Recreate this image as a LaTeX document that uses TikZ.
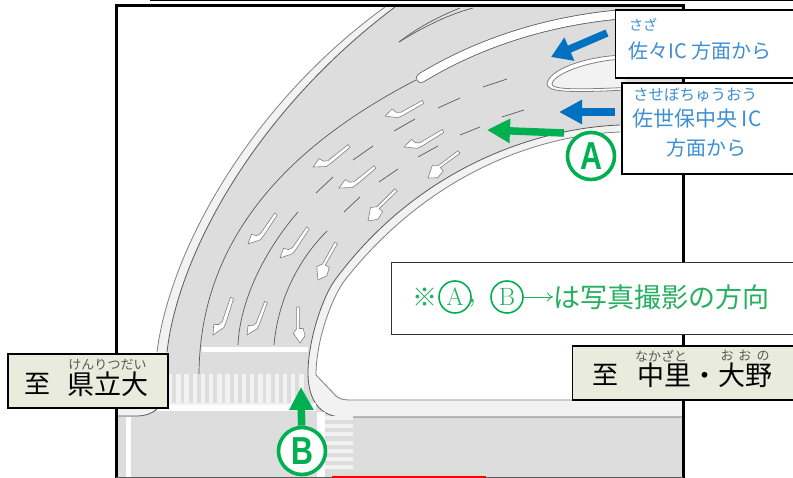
\documentclass[tikz,border=0pt]{standalone}
\usepackage{fontspec}
\usepackage{graphicx}
\usetikzlibrary{arrows.meta}
\setsansfont{Liberation Sans}
\newfontfamily\jp{Noto Sans CJK JP}
\definecolor{roadgray}{HTML}{DDDDDD}
\definecolor{shouldergray}{HTML}{F2F2F2}
\definecolor{edgegray}{HTML}{5A5A5A}
\definecolor{markblue}{HTML}{0070C0}
\definecolor{textblue}{HTML}{3D8FD1}
\definecolor{markgreen}{HTML}{00B050}
\definecolor{textgreen}{HTML}{25B060}
\definecolor{signgreen}{HTML}{E9ECDC}
\newcommand{\fsize}[1]{\fontsize{#1}{#1}\selectfont}
\newcommand{\narrowmark}[1]{\scalebox{0.78}[1]{#1}}
\tikzset{
	edgeline/.style={draw=edgegray, line width=0.8pt},
	softline/.style={draw=gray, line width=0.8pt},
	laneline/.style={draw=edgegray, line width=0.7pt},
	lanemark/.style={draw=gray, fill=white, line width=0.6pt, line join=round},
	whitebox/.style={draw=black, fill=white, line width=1.6pt},
	signbox/.style={draw=black, fill=signgreen, line width=1.8pt},
	bluearrow/.style={draw=markblue, line width=7.5pt, -{Triangle[length=20pt,width=24pt,fill=markblue]}},
	greenarrow/.style={draw=markgreen, line width=7.5pt, -{Triangle[length=23pt,width=23pt,fill=markgreen]}},
	bigmark/.style={circle, draw=markgreen, fill=white, line width=3.6pt, minimum size=47pt, inner sep=0pt, text=markgreen, font=\sffamily\bfseries\fsize{39}},
	smallmark/.style={circle, draw=markgreen, line width=1.6pt, minimum size=32pt, inner sep=0pt, text=textgreen, font=\fsize{25}},
	rubytext/.style={inner sep=0pt, text=black!65, font=\jp\fsize{13}},
	signtext/.style={inner sep=0pt, font=\jp\fsize{27}},
	bluetext/.style={inner sep=0pt, text=textblue, font=\jp\fsize{20}},
	bluetiny/.style={inner sep=0pt, text=textblue, font=\jp\fsize{14}},
	notetext/.style={inner sep=0pt, text=textgreen, font=\jp\fsize{27}}
}
\begin{document}
\begin{tikzpicture}[x=1pt,y=-1pt]
	\useasboundingbox (0,0) rectangle (793,478);
	\clip (0,0) rectangle (793,478);
	\fill[white] (0,0) rectangle (793,478);

	%%shoulder
	\fill[shouldergray] (157,352) .. controls (170,250) and (250,105) .. (385,7) -- (683,7) -- (683,132) -- (620,132)
		.. controls (540,135) and (430,172) .. (345,280) .. controls (332,297) and (316,340) .. (316,375)
		-- (343,400) -- (683,400) -- (683,477) -- (118,477) -- (118,405) -- (157,405) -- cycle;

	%%road
	\fill[roadgray] (167,352) .. controls (178,255) and (255,112) .. (395,7) -- (683,7) -- (683,125) -- (620,125)
		.. controls (540,128) and (420,165) .. (335,280) .. controls (323,296) and (308,340) .. (308,373)
		.. controls (308,400) and (320,417) .. (343,417)
		-- (683,417) -- (683,477) -- (118,477) -- (118,416) -- (137,416) .. controls (150,416) and (166,410) .. (167,380) -- cycle;

	%%island
	\filldraw[fill=white, softline] (625,55) .. controls (585,56) and (548,70) .. (547,84) .. controls (547,92) and (570,93) .. (625,90);
	\filldraw[fill=shouldergray, softline] (625,59) .. controls (590,60) and (553,74) .. (552,84) .. controls (552,89) and (570,90) .. (625,87.5);

	%%edges
	\draw[softline] (157,352) .. controls (170,250) and (250,105) .. (385,7);
	\draw[softline] (620,132) .. controls (540,135) and (430,172) .. (345,280) .. controls (332,297) and (316,340) .. (316,375) -- (336,396) .. controls (340,399) and (343,400) .. (350,400) -- (683,400);
	\draw[edgeline] (167,352) .. controls (178,255) and (255,112) .. (395,7);
	\draw[edgeline] (620,125) .. controls (540,128) and (420,165) .. (335,280) .. controls (323,296) and (308,340) .. (308,373) .. controls (308,400) and (320,417) .. (343,417) -- (683,417);
	\draw[edgeline] (118,416) -- (137,416) .. controls (150,416) and (166,410) .. (167,380);

	%%white bar
	\draw[draw=edgegray, line width=10pt, line cap=round] (421,78) .. controls (480,42) and (550,20) .. (625,14);
	\draw[draw=white, line width=8.4pt, line cap=round] (421,78) .. controls (480,42) and (550,20) .. (625,14);

	%%lane lines
	\draw[laneline] (416,80) .. controls (300,140) and (200,230) .. (199,374);
	\draw[laneline] (298,212) .. controls (265,250) and (240,300) .. (238,345);
	\draw[laneline] (327,231) .. controls (298,260) and (278,300) .. (274,345);
	\draw[laneline] (399,42) .. controls (420,26) and (440,16) .. (460,8);
	\draw[laneline] (399,42) .. controls (425,26) and (450,14) .. (473,8);
	\foreach \xa/\ya/\xb/\yb in {483/87/507/79, 438/108/460/98, 394/131/415/119, 353/160/373/146, 316/193/333/177, 502/117/524/110, 460/135/480/127, 418/157/438/146, 379/182/398/169, 344/212/360/197}
	{
		\draw[laneline] (\xa,\ya)--(\xb,\yb);
	}

	%%lane marks
	\foreach \xa/\ya/\xb/\yb in {423/102/385/116, 443/131/404/147, 349/146/313/167, 375/167/339/188, 276/214/248/244, 308/228/280/258, 232/298/213/335, 266/302/247/335}
	{
		\pgfmathsetmacro{\dxa}{\xb-\xa}
		\pgfmathsetmacro{\dya}{\ya-\yb}
		\filldraw[lanemark, cm={\dxa,\dya,-\dya,\dxa,(\xa,\ya)}] (0,0.04)--(0.61,-0.05)--(0.71,-0.01)--(0.77,0.10)--(1,0)--(0.72,-0.15)--(0.58,-0.14)--(0,-0.04)--cycle;
	}
	\foreach \xa/\ya/\xb/\yb in {459/152/428/178, 396/190/368/221, 336/243/318/280, 298/307/300/343}
	{
		\pgfmathsetmacro{\dxa}{\xb-\xa}
		\pgfmathsetmacro{\dya}{\ya-\yb}
		\filldraw[lanemark, cm={\dxa,\dya,-\dya,\dxa,(\xa,\ya)}] (0,0.04)--(0.6,0.07)--(0.72,0.17)--(1,0)--(0.81,-0.15)--(0.6,-0.11)--(0.6,0)--(0,-0.04)--cycle;
	}

	%%crossings
	\fill[white] (202,347) rectangle (308,352);
	\fill[white] (157,405) rectangle (316,411);
	\foreach \x in {168,176.2,...,305}
	{
		\fill[shouldergray] (\x,374) rectangle (\x+4.3,403);
	}
	\fill[shouldergray] (168,403) rectangle (316,405);
	\fill[white] (126,417) rectangle (131,477);
	\fill[white] (317,412) rectangle (325,477);
	\foreach \y in {416,424.2,...,472}
	{
		\fill[shouldergray] (325,\y) rectangle (353,\y+4);
	}

	%%frame
	\draw[black, line width=3pt] (116,477.5)--(116,5.5)--(683,5.5)--(683,477.5);
	\draw[edgegray, line width=1pt] (116,477.5)--(683,477.5);
	\draw[black, line width=1pt] (150,1)--(793,1);
	\draw[red, line width=2.5pt] (332,477.5)--(486,477.5);

	%%boxes
	\node[whitebox, anchor=north west, minimum width=190pt, minimum height=68pt, inner sep=0pt] (fromsaza) at (614.5,9.5) {};
	\node[whitebox, anchor=north west, minimum width=180pt, minimum height=91pt, inner sep=0pt] (fromsasebo) at (621,82) {};
	\node[draw=black!80, fill=white, line width=1.1pt, anchor=north west, minimum width=410pt, minimum height=72pt, inner sep=0pt] (notebox) at (391,262) {};
	\node[signbox, anchor=north west, minimum width=235pt, minimum height=54pt, inner sep=0pt] (signnakazato) at (571.5,345) {};
	\node[signbox, anchor=north west, minimum width=160pt, minimum height=54pt, inner sep=0pt] (signkenritsu) at (7,353.5) {};

	%%texts
	\node[bluetiny] (rubysaza) at (643,25) {さざ};
	\node[bluetext, anchor=west] (saza) at (628,51) {佐々IC 方面から};
	\node[bluetiny, font=\jp\fsize{15.5}] (rubysasebo) at (695,95) {させぼちゅうおう};
	\node[bluetext, anchor=west, font=\jp\fsize{21}] (sasebo) at (632,119) {佐世保中央 IC};
	\node[bluetext] (sasebodir) at (706,148) {方面から};

	\node[signtext, font=\jp\fsize{26}] (itaruk) at (37.5,384) {至};
	\node[signtext] (kenritsu) at (107.5,384) {県立大};
	\node[rubytext] (rubykenritsu) at (107.5,365) {けんりつだい};
	\node[signtext, font=\jp\fsize{26}] (itarun) at (605.5,375) {至};
	\node[signtext] (nakazato) at (705,375) {中里・大野};
	\node[rubytext] (rubynaka) at (661,356) {なかざと};
	\node[rubytext] (rubyono) at (745,356) {お\hspace{5pt}お\hspace{5pt}の};

	\node[inner sep=0pt, text=textgreen, font=\jp\fsize{25}] (kome) at (425,297) {※};
	\node[smallmark] (smalla) at (455,297) {A};
	\node[inner sep=0pt, text=textgreen, font=\bfseries\fsize{24}] (comma) at (472,303) {,};
	\node[smallmark] (smallb) at (507,297) {B};
	\node[notetext, anchor=west] (note) at (553,297) {は写真撮影の方向};
	\draw[textgreen, line width=0.9pt, -{To[length=6pt,width=9pt]}] (smallb)--(note);

	%%arrows
	\coordinate (tailsaza) at (607,33);
	\coordinate (tipsaza) at (551,57);
	\coordinate (tailsasebo) at (615,112);
	\coordinate (tipsasebo) at (559,112);
	\coordinate (taila) at (564,133);
	\coordinate (tipa) at (487,130);
	\coordinate (tipb) at (301,387);
	\draw[bluearrow] (tailsaza)--(tipsaza);
	\draw[bluearrow, -{Triangle[length=23pt,width=23pt,fill=markblue]}] (tailsasebo)--(tipsasebo);
	\draw[greenarrow] (taila)--(tipa);
	\node[bigmark] (marka) at (591,156) {\narrowmark{A}};
	\node[bigmark] (markb) at (302,451) {\narrowmark{B}};
	\draw[greenarrow] (markb)--(tipb);
\end{tikzpicture}
\end{document}
